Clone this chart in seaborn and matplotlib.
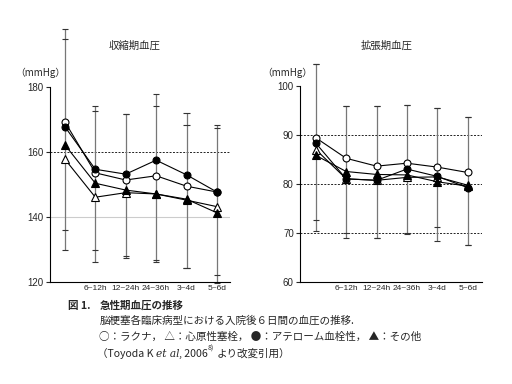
import matplotlib
matplotlib.use("Agg")
import matplotlib.pyplot as plt
from matplotlib import font_manager
import seaborn as sns
import numpy as np
import pandas as pd

sns.set_style("white")
plt.rcParams['font.family'] = ['Noto Sans CJK JP', 'DejaVu Sans']

# ---- data ----
time_labels = ['', '6~12h', '12~24h', '24~36h', '3~4d', '5~6d']
series_names = ['ラクナ', '心原性塞栓', 'アテローム血栓性', 'その他']

sys_lacunar = [169.3, 153.6, 151.4, 152.7, 149.5, 147.7]
sys_cardio = [157.8, 146.1, 147.5, 147.1, 145.2, 143.2]
sys_athero = [167.8, 154.7, 153.2, 157.5, 153.0, 147.7]
sys_other = [162.2, 150.4, 148.3, 147.1, 145.5, 141.3]
sys_sd_hi_a = [194.7, 174.3, 171.8, 178.0, 171.9, 168.4]
sys_sd_hi_b = [197.8, 172.6, 171.8, 174.2, 168.2, 167.3]
sys_sd_lo_a = [136.0, 129.8, 128.0, 126.8, 124.2, 122.2]
sys_sd_lo_b = [130.0, 126.2, 127.3, 126.3, 124.2, 119.7]
sys_ticks = [120, 140, 160, 180]

dia_lacunar = [89.5, 85.3, 83.7, 84.3, 83.5, 82.4]
dia_cardio = [87.1, 81.1, 80.8, 81.4, 81.5, 79.8]
dia_athero = [88.4, 81.1, 80.8, 83.1, 81.6, 79.3]
dia_other = [85.9, 82.6, 82.0, 81.9, 80.5, 79.6]
dia_sd_hi_a = [104.6, 95.9, 95.9, 96.3, 95.5, 93.7]
dia_sd_hi_b = [104.6, 95.9, 95.9, 96.3, 95.5, 93.7]
dia_sd_lo_a = [72.7, 70.1, 69.0, 70.1, 71.2, 67.6]
dia_sd_lo_b = [70.5, 69.0, 69.0, 69.8, 68.3, 67.5]
dia_ticks = [60, 70, 80, 90, 100]

W, H = 512, 384
fig = plt.figure(figsize=(W / 100, H / 100), dpi=100)
fig.patch.set_facecolor('white')

installed = {f.name for f in font_manager.fontManager.ttflist}
tick_family = ['Liberation Sans Narrow'] if 'Liberation Sans Narrow' in installed else ['Liberation Sans']
tick_fs = 6.8 if tick_family[0] == 'Liberation Sans Narrow' else 6.0


def px_axes(x0, x1, y0, y1):
    return fig.add_axes([x0 / W, 1 - y1 / H, (x1 - x0) / W, (y1 - y0) / H])


def draw_panel(ax, vals, his, los, ticks, ylim, xlim, dashed, light):
    x = np.arange(len(time_labels))
    hi_top = np.maximum(his[0], his[1])
    lo_bot = np.minimum(los[0], los[1])
    ax.vlines(x, lo_bot, hi_top, color='#777777', lw=0.9, zorder=1, clip_on=False)
    for arr in list(his) + list(los):
        ax.hlines(arr, x - 0.1, x + 0.1, color='#333333', lw=0.8, zorder=1, clip_on=False)
    for g in dashed:
        ax.axhline(g, color='#222222', lw=0.7, ls=(0, (2, 1.5)), zorder=0)
    for g in light:
        ax.axhline(g, color='#cccccc', lw=0.8, zorder=0)
    styles = [
        dict(marker='o', markerfacecolor='white', ms=5),
        dict(marker='^', markerfacecolor='white', ms=5.2),
        dict(marker='o', markerfacecolor='black', ms=5),
        dict(marker='^', markerfacecolor='black', ms=5.2),
    ]
    for name, v, st in zip(series_names, vals, styles):
        df = pd.DataFrame({'t': x, 'v': v})
        sns.lineplot(data=df, x='t', y='v', ax=ax, color='black', lw=0.8,
                     markeredgecolor='black', markeredgewidth=0.8, zorder=3,
                     legend=False, **st)
    ax.set_xlim(*xlim)
    ax.set_ylim(*ylim)
    ax.set_xticks(x)
    ax.set_xticklabels(time_labels, fontsize=tick_fs, family=tick_family)
    ax.set_yticks(ticks)
    ax.set_yticklabels([str(t) for t in ticks], fontsize=7, family=['Liberation Sans'])
    ax.tick_params(axis='x', length=0, pad=2)
    ax.tick_params(axis='y', length=3, width=0.8, direction='out', pad=1.5, left=True)
    ax.set_xlabel('')
    ax.set_ylabel('')
    for s in ['top', 'right']:
        ax.spines[s].set_visible(False)
    for s in ['left', 'bottom']:
        ax.spines[s].set_color('black')
        ax.spines[s].set_linewidth(0.8)
    ax.spines['left'].set_bounds(ticks[0], ticks[-1])
    ax.patch.set_alpha(0)


ax1 = px_axes(50, 230, 27, 282)
draw_panel(ax1, [sys_lacunar, sys_cardio, sys_athero, sys_other],
           (sys_sd_hi_a, sys_sd_hi_b), (sys_sd_lo_a, sys_sd_lo_b),
           sys_ticks, (120, 198.5), (-0.49, 5.43), [160], [140])

ax2 = px_axes(300, 482, 62, 282)
draw_panel(ax2, [dia_lacunar, dia_cardio, dia_athero, dia_other],
           (dia_sd_hi_a, dia_sd_hi_b), (dia_sd_lo_a, dia_sd_lo_b),
           dia_ticks, (60, 105), (-0.52, 5.47), [90, 80, 70], [])

# titles and units
fig.text(135 / W, 1 - 46 / H, '収縮期血圧', ha='center', va='center', fontsize=7.5)
fig.text(387 / W, 1 - 46 / H, '拡張期血圧', ha='center', va='center', fontsize=7.5)
fig.text(40 / W, 1 - 73 / H, '（mmHg）', ha='center', va='center', fontsize=7)
fig.text(287 / W, 1 - 73 / H, '（mmHg）', ha='center', va='center', fontsize=7)

# caption
cap_fs = 7.6
fig.text(68 / W, 1 - 306 / H, '図 1.', ha='left', va='center', fontsize=cap_fs, fontweight='bold')
fig.text(100 / W, 1 - 306 / H, '急性期血圧の推移', ha='left', va='center', fontsize=cap_fs, fontweight='bold')
fig.text(100 / W, 1 - 321 / H, '脳梗塞各臨床病型における入院後６日間の血圧の推移.', ha='left', va='center', fontsize=cap_fs)
fig.text(99 / W, 1 - 337 / H, '○：ラクナ， △：心原性塞栓， ●：アテローム血栓性， ▲：その他',
         ha='left', va='center', fontsize=cap_fs)
t1 = fig.text(97 / W, 1 - 353 / H, '（Toyoda K ', ha='left', va='center', fontsize=cap_fs)
a2 = ax1.annotate('et al', xy=(1, 0), xycoords=t1, va='bottom', ha='left',
                  fontsize=cap_fs, style='italic', family=['DejaVu Serif'],
                  annotation_clip=False)
a3 = ax1.annotate(', 2006', xy=(1, 0), xycoords=a2, va='bottom', ha='left',
                  fontsize=cap_fs, annotation_clip=False)
a4 = ax1.annotate('8)', xy=(1, 0.6), xycoords=a3, va='bottom', ha='left',
                  fontsize=5, annotation_clip=False)
a5 = ax1.annotate('より改変引用）', xy=(1, 0), xycoords=a3, va='bottom', ha='left',
                  xytext=(6, 0), textcoords='offset points',
                  fontsize=cap_fs, annotation_clip=False)

fig.savefig('out.png', dpi=100, facecolor='white')
